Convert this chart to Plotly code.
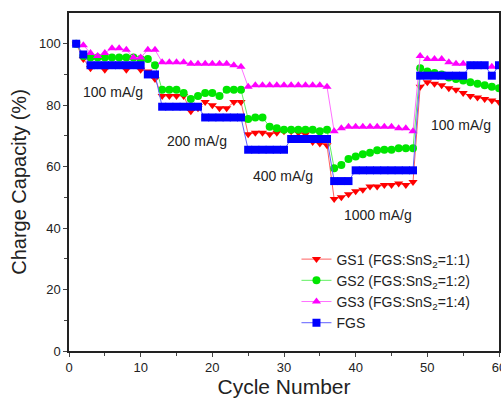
import plotly.graph_objects as go

cycles = list(range(1, 61))

gs1 = [100, 95, 92, 93, 91.5, 93, 93, 91.5, 93, 91.5, 91, 88.5,
       83, 83, 83, 83, 78, 79, 81, 80, 79, 79, 81, 81,
       70.5, 71, 71, 70.5, 71, 71.5, 71.5, 71, 70.5, 68, 67.5, 67,
       49.5, 50, 51, 52, 52.5, 53.5, 53.5, 54, 54, 54.5, 54, 55,
       86, 87.5, 87, 86.5, 85.5, 85, 84, 83, 82.5, 82, 81.5, 81]

gs2 = [100, 96, 95.5, 95.5, 95.5, 95.5, 95.5, 95.5, 95.5, 95, 95, 93,
       85, 85, 85, 84, 82, 83, 84, 84, 83, 85, 85, 85,
       75.5, 76, 76, 73, 72.5, 72, 72, 72, 72, 72, 71.5, 72,
       59.5, 60.5, 62.5, 63.3, 64, 64.5, 65.3, 65.5, 65.5, 66, 66, 66,
       92, 91, 90.5, 90, 89, 88.5, 88, 87.5, 87, 86.5, 86, 85.5]

gs3 = [100, 99.5, 97, 96, 97, 98.5, 98.5, 98, 95.5, 95.5, 98, 98,
       94, 94, 94, 94, 93.5, 93.5, 93.5, 93.5, 93.5, 93.5, 93, 92.5,
       86, 86.5, 86.5, 86.5, 86.5, 86.5, 86.5, 86.5, 86.5, 86.5, 86.5, 86,
       71.5, 72.5, 73, 73, 73, 73, 73, 73, 73, 72.5, 72.5, 71.5,
       96, 95, 95, 95, 94, 93.5, 93.5, 93, 93, 92.5, 92.5, 92.5]

fgs = [100, 96.5, 93, 93, 93, 93, 93, 93, 93, 93, 90, 90,
       79.5, 79.5, 79.5, 79.5, 79.5, 79.5, 76, 76, 76, 76, 76, 76,
       65.5, 65.5, 65.5, 65.5, 65.5, 65.5, 69, 69, 69, 69, 69, 69,
       55.3, 55.3, 55.3, 58.8, 58.8, 58.8, 58.8, 58.8, 58.8, 58.8, 58.8, 58.8,
       89.6, 89.6, 89.6, 89.6, 89.6, 89.6, 89.6, 93, 93, 93, 89.6, 93]

series_names = ["GS1 (FGS:SnS<sub>2</sub>=1:1)", "GS2 (FGS:SnS<sub>2</sub>=1:2)",
                "GS3 (FGS:SnS<sub>2</sub>=1:4)", "FGS"]
colors = ["#ff0000", "#00e600", "#ff00ff", "#0000ff"]
line_colors = ["#ff6060", "#60f060", "#ff70ff", "#6060ff"]
symbols = ["triangle-down", "circle", "triangle-up", "square"]

rate_labels = ["100 mA/g", "200 mA/g", "400 mA/g", "1000 mA/g", "100 mA/g"]
rate_x = [6.1, 17.8, 29.8, 43.1, 54.7]
rate_y = [84.2, 68.2, 57.1, 44.2, 73.4]

fig = go.Figure()
for vals, name, c, lc, s in zip([gs1, gs2, gs3, fgs], series_names, colors, line_colors, symbols):
    fig.add_trace(go.Scatter(x=cycles, y=vals, mode="lines+markers", name=name,
                             line=dict(color=lc, width=1),
                             marker=dict(color=c, symbol=s, size=8, line=dict(width=0))))

for t, x, y in zip(rate_labels, rate_x, rate_y):
    fig.add_annotation(x=x, y=y, text=t, showarrow=False,
                       font=dict(size=14, color="#222222", family="Liberation Sans, Arial"))

axis_common = dict(showline=True, linecolor="#222222", linewidth=1.5, mirror=True,
                   ticks="outside", ticklen=4, tickcolor="#444444", showgrid=False, zeroline=False,
                   automargin=False, ticklabeloverflow="allow",
                   tickfont=dict(size=13, color="#222222", family="Liberation Sans, Arial"))

fig.update_layout(
    width=501, height=399,
    margin=dict(l=69, r=2, t=13, b=48),
    paper_bgcolor="white", plot_bgcolor="white",
    font=dict(family="Liberation Sans, Arial", color="#222222"),
    xaxis=dict(range=[0, 60], tickvals=[0, 10, 20, 30, 40, 50, 60],
               minor=dict(tickvals=[5, 15, 25, 35, 45, 55], ticks="outside", ticklen=3, tickcolor="#444444"),
               title=dict(text="Cycle Number", font=dict(size=21), standoff=0),
               **axis_common),
    yaxis=dict(range=[0, 110], tickvals=[0, 20, 40, 60, 80, 100],
               minor=dict(tickvals=[10, 30, 50, 70, 90], ticks="outside", ticklen=3, tickcolor="#444444"),
               title=dict(text="Charge Capacity (%)", font=dict(size=20), standoff=7),
               **axis_common),
    legend=dict(x=0.529, y=0.318, xanchor="left", yanchor="top", bgcolor="rgba(0,0,0,0)",
                font=dict(size=14, color="#222222"), tracegroupgap=0),
    showlegend=True,
)

fig.write_html("out.html", config={"displayModeBar": False},
               post_script="document.documentElement.style.overflow='hidden';"
                           "document.body.style.margin='0';document.body.style.overflow='hidden';")
